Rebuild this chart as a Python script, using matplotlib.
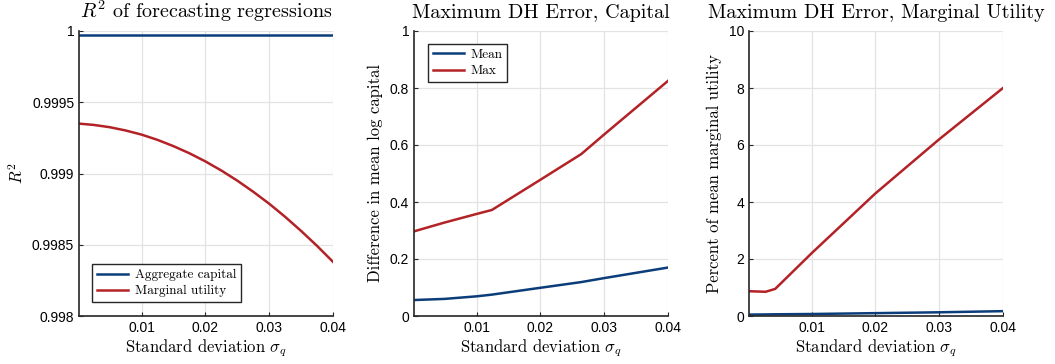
import matplotlib as mpl
mpl.use('Agg')
import matplotlib.pyplot as plt

# sigma_q grid points
sig_r2 = [0.0002, 0.0025, 0.005, 0.0075, 0.01, 0.0125, 0.015, 0.0175, 0.02,
          0.0225, 0.025, 0.0275, 0.03, 0.0325, 0.035, 0.0375, 0.04]
r2_capital = [0.99997] * len(sig_r2)
r2_mu = [0.999350, 0.999341, 0.999325, 0.999302, 0.999273, 0.999236, 0.999192, 0.999142,
         0.999085, 0.999021, 0.998950, 0.998872, 0.998788, 0.998696, 0.998597, 0.998492,
         0.998380]

sig_cap = [0.0002, 0.005, 0.01, 0.0124, 0.02, 0.0264, 0.03, 0.04]
cap_mean = [0.056, 0.060, 0.069, 0.075, 0.099, 0.119, 0.133, 0.170]
cap_max = [0.297, 0.328, 0.358, 0.372, 0.478, 0.568, 0.637, 0.825]

sig_mu = [0.0002, 0.0028, 0.0043, 0.01, 0.02, 0.03, 0.04]
mu_mean = [0.05, 0.055, 0.06, 0.07, 0.1, 0.13, 0.17]
mu_max = [0.87, 0.85, 0.95, 2.2, 4.3, 6.2, 8.0]

xticks = [0.01, 0.02, 0.03, 0.04]
blue = '#0b3d7a'
red = '#b22226'

plt.rcParams['mathtext.fontset'] = 'cm'
plt.rcParams['font.family'] = 'Liberation Sans'
serif = 'cmr10'

fig = plt.figure(figsize=(10.55, 3.64), dpi=100)
W, H = 1055.0, 364.0
lefts = [79, 414, 749]
axes = []
for l in lefts:
    ax = fig.add_axes([l / W, (H - 316) / H, 254 / W, 285 / H])
    axes.append(ax)

for ax in axes:
    ax.set_xlim(0.0002, 0.04)
    ax.set_xticks(xticks)
    ax.set_xticklabels(['0.01', '0.02', '0.03', '0.04'])
    ax.grid(True, color='#e3e3e3', linewidth=0.9)
    ax.set_axisbelow(True)
    ax.spines['top'].set_visible(False)
    ax.spines['right'].set_visible(False)
    for s in ['left', 'bottom']:
        ax.spines[s].set_color('#262626')
        ax.spines[s].set_linewidth(1.2)
    ax.tick_params(direction='in', length=3, width=0.8, labelsize=10, colors='#262626',
                   labelcolor='black')
    ax.set_xlabel(r'Standard deviation $\sigma_q$', fontsize=12, family=serif, labelpad=2)

leg_kw = dict(prop={'family': serif, 'size': 9.5}, frameon=True, fancybox=False,
              edgecolor='#262626', framealpha=1, borderaxespad=0,
              handlelength=2.4, handletextpad=0.5, borderpad=0.35, labelspacing=0.3)

ax = axes[0]
ax.plot(sig_r2, r2_capital, color=blue, lw=1.8, label='Aggregate capital')
ax.plot(sig_r2, r2_mu, color=red, lw=1.8, label='Marginal utility')
ax.set_ylim(0.998, 1.0)
ax.set_yticks([0.998, 0.9985, 0.999, 0.9995, 1.0])
ax.set_yticklabels(['0.998', '0.9985', '0.999', '0.9995', '1'])
ax.set_ylabel(r'$R^2$', fontsize=12, labelpad=4)
ax.set_title(r'$R^2$ of forecasting regressions', fontsize=14.5, family=serif, pad=9)
ax.legend(loc='lower left', bbox_to_anchor=(0.052, 0.049), **leg_kw)

ax = axes[1]
ax.plot(sig_cap, cap_mean, color=blue, lw=1.8, label='Mean')
ax.plot(sig_cap, cap_max, color=red, lw=1.8, label='Max')
ax.set_ylim(0, 1)
ax.set_yticks([0, 0.2, 0.4, 0.6, 0.8, 1])
ax.set_yticklabels(['0', '0.2', '0.4', '0.6', '0.8', '1'])
ax.set_ylabel('Difference in mean log capital', fontsize=12, family=serif, labelpad=5)
ax.set_title('Maximum DH Error, Capital', fontsize=14.5, family=serif, pad=9)
ax.legend(loc='upper left', bbox_to_anchor=(0.055, 0.954), **leg_kw)

ax = axes[2]
ax.plot(sig_mu, mu_mean, color=blue, lw=1.8)
ax.plot(sig_mu, mu_max, color=red, lw=1.8)
ax.set_ylim(0, 10)
ax.set_yticks([0, 2, 4, 6, 8, 10])
ax.set_ylabel('Percent of mean marginal utility', fontsize=12, family=serif, labelpad=5)
ax.set_title('Maximum DH Error, Marginal Utility', fontsize=14.5, family=serif, pad=9)

fig.savefig('out.png', dpi=100)
